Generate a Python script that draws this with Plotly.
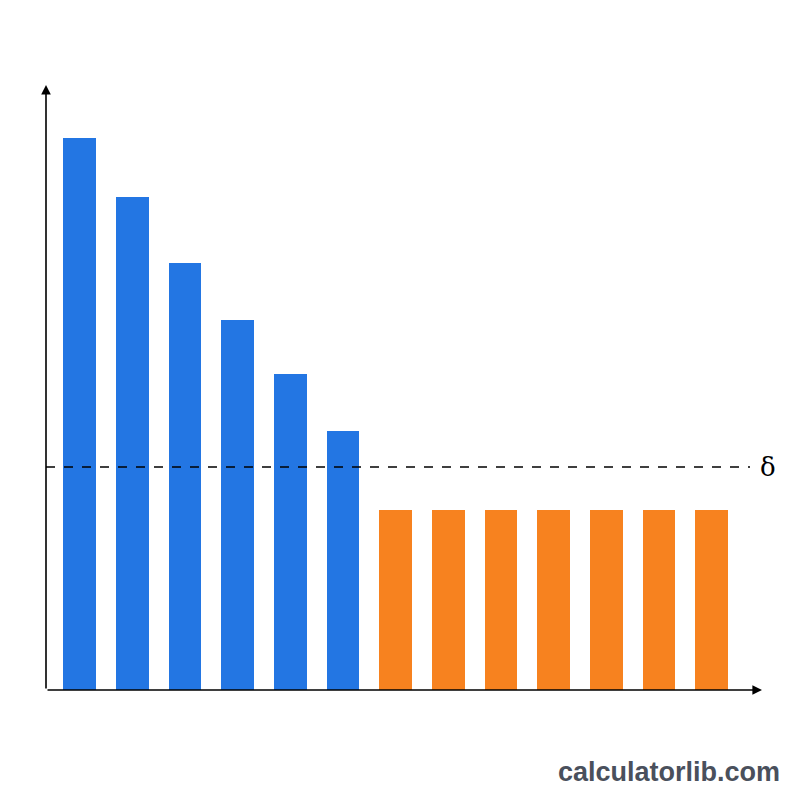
import plotly.graph_objects as go

blue_vals = [5.52, 4.93, 4.27, 3.70, 3.16, 2.59]
orange_vals = [1.80, 1.80, 1.80, 1.80, 1.80, 1.80, 1.80]
delta = 2.23
delta_label = "δ"
watermark = "calculatorlib.com"

blue_x = list(range(len(blue_vals)))
orange_x = list(range(len(blue_vals), len(blue_vals) + len(orange_vals)))

fig = go.Figure()
fig.add_trace(go.Bar(x=blue_x, y=blue_vals, marker=dict(color="#2376E3", line=dict(width=0)),
                     width=0.62, hoverinfo="skip"))
fig.add_trace(go.Bar(x=orange_x, y=orange_vals, marker=dict(color="#F7821F", line=dict(width=0)),
                     width=0.62, hoverinfo="skip"))

L, R, T, B = 46, 38, 85, 110
W = 800 - L - R
H = 800 - T - B
pitch = 52.67
x0 = -33.5 / pitch
x1 = x0 + W / pitch

fig.update_layout(
    width=800, height=800, autosize=False,
    margin=dict(l=L, r=R, t=T, b=B),
    paper_bgcolor="white", plot_bgcolor="white",
    showlegend=False,
    xaxis=dict(range=[x0, x1], visible=False, fixedrange=True),
    yaxis=dict(range=[0, H / 100.0], visible=False, fixedrange=True),
    bargap=0,
)

# dashed threshold line
fig.add_shape(type="line", xref="paper", yref="y", x0=0, x1=(750 - L) / W, y0=delta, y1=delta,
              line=dict(color="black", width=1.5, dash="dash"))
fig.add_annotation(xref="paper", yref="y", x=(768 - L) / W, y=delta, text=delta_label,
                   showarrow=False, font=dict(family="DejaVu Serif, Liberation Serif, serif", size=26, color="black"),
                   xanchor="center", yanchor="middle")

# axes with arrows
fig.add_annotation(xref="paper", yref="paper", x=1, y=0, ax=-W, ay=0, text="",
                   showarrow=True, arrowhead=2, arrowsize=1.2, arrowwidth=1.6, arrowcolor="black")
fig.add_annotation(xref="paper", yref="paper", x=0, y=1, ax=0, ay=H, text="",
                   showarrow=True, arrowhead=2, arrowsize=1.2, arrowwidth=1.6, arrowcolor="black")

# watermark
fig.add_annotation(xref="paper", yref="paper", x=(782 - L) / W, y=-(772 - 690) / H, text="<b>" + watermark + "</b>",
                   showarrow=False, xanchor="right", yanchor="middle",
                   font=dict(family="Liberation Sans, Arial, sans-serif", size=27, color="#4A505C"))

fig.write_html("out.html")
